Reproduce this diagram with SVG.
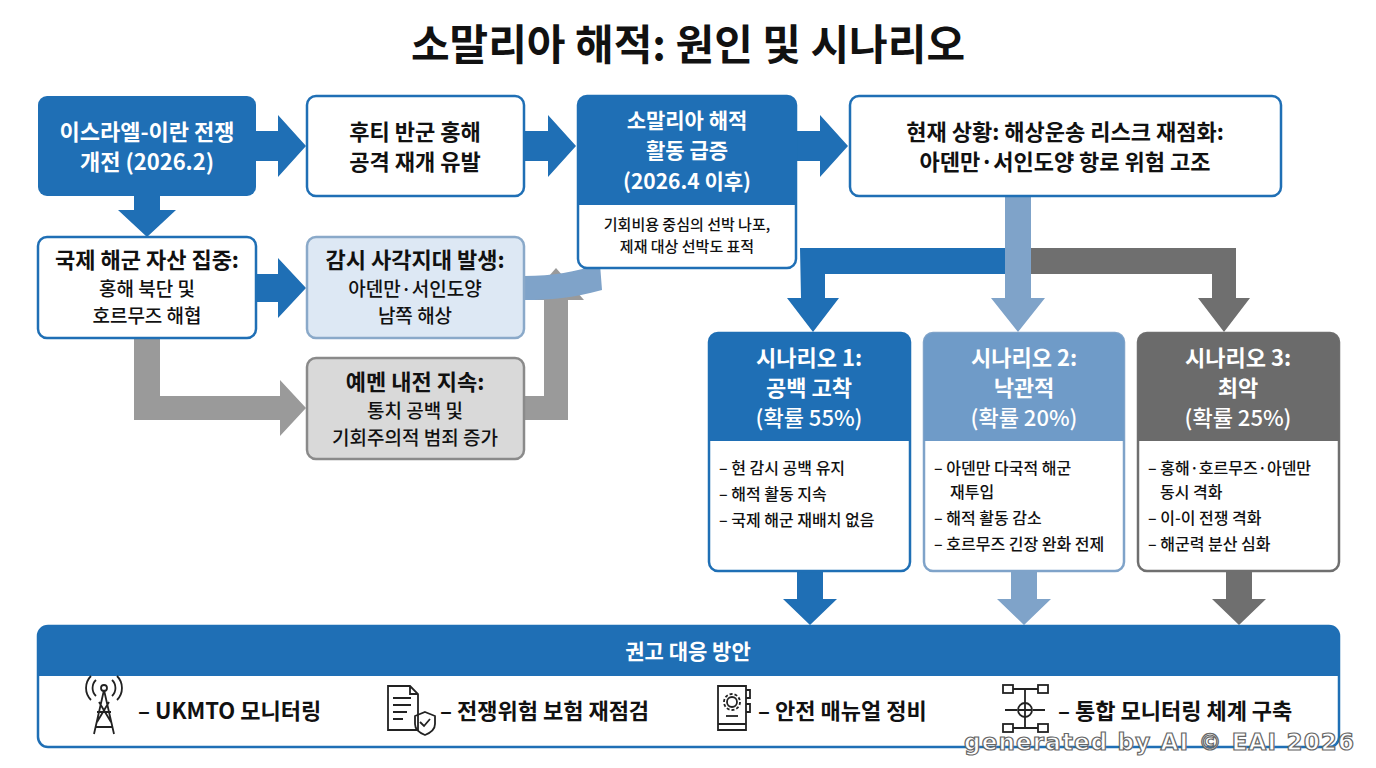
<svg xmlns="http://www.w3.org/2000/svg" width="1376" height="768" viewBox="0 0 1376 768">
<style>
text{font-family:"Noto Sans CJK KR","Noto Sans",sans-serif;text-anchor:middle}
.t{font-size:22px;font-weight:bold;fill:#111}
.w{font-size:22px;font-weight:bold;fill:#fff}
.s{font-size:15px;font-weight:500;fill:#111}
.l{font-size:16px;font-weight:500;fill:#111;text-anchor:start}
.b{font-size:22px;font-weight:bold;fill:#111;text-anchor:start}
.bl{fill:#1f6fb5}
.bo{fill:#fff;stroke:#1f6fb5;stroke-width:2.5}
.ic{fill:none;stroke:#222;stroke-width:1.8}
</style>
<rect width="1376" height="768" fill="#fff"/>
<text x="688" y="60" style="font-size:42px;font-weight:bold;fill:#111">소말리아 해적: 원인 및 시나리오</text>
<g id="connectors">
<path d="M256 131h22v-16l28 31-28 31v-16h-22z" class="bl"/>
<path d="M524 131h24v-16l28 31-28 31v-16h-24z" class="bl"/>
<path d="M796 131h24v-16l28 31-28 31v-16h-24z" class="bl"/>
<path d="M134 196h26v14h16l-29 27-29-27h16z" class="bl"/>
<path d="M256 274h22v-16l28 30-28 30v-16h-22z" class="bl"/>
<path d="M134 338h26v58h120v-16l26 28-26 28v-16h-146z" fill="#9a9a9a"/>
<path d="M524 396h20v-96h-16l28-32 28 32h-16v120h-44z" fill="#9a9a9a"/>
<path d="M524 276c30 0 50-4 76-12l2 26c-30 8-50 10-78 10z" fill="#7fa3c9"/>
<path d="M1005 196h26v52h-26z" fill="#7fa3c9"/>
<path d="M800 248h205v26h-180v24h14l-26 34-26-34h14z" class="bl"/>
<path d="M1005 248h26v50h14l-27 34-27-34h14z" fill="#7fa3c9"/>
<path d="M1031 248h205v50h14l-26 34-26-34h14v-24h-181z" fill="#6f6f6f"/>
<path d="M797 571h26v28h14l-27 26-27-26h14z" class="bl"/>
<path d="M1011 571h26v28h14l-27 26-27-26h14z" fill="#7fa3c9"/>
<path d="M1226 571h26v28h14l-27 26-27-26h14z" fill="#6f6f6f"/>
</g>
<g id="n1"><rect x="38" y="96" width="218" height="100" rx="9" class="bl"/>
<text x="147" y="140" class="w">이스라엘-이란 전쟁</text><text x="147" y="170" class="w">개전 (2026.2)</text></g>
<g id="n2"><rect x="307" y="96" width="217" height="100" rx="9" class="bo"/>
<text x="415" y="140" class="t">후티 반군 홍해</text><text x="415" y="170" class="t">공격 재개 유발</text></g>
<g id="n3"><rect x="578" y="96" width="218" height="172" rx="9" class="bo"/>
<path d="M587 96h200a9 9 0 0 1 9 9v100h-218v-100a9 9 0 0 1 9-9z" class="bl"/>
<text x="687" y="128" class="w" style="font-size:21px">소말리아 해적</text><text x="687" y="158" class="w" style="font-size:21px">활동 급증</text><text x="687" y="189" class="w" style="font-size:21px">(2026.4 이후)</text>
<text x="687" y="230" class="s">기회비용 중심의 선박 나포,</text><text x="687" y="252" class="s">제재 대상 선박도 표적</text></g>
<g id="n4"><rect x="850" y="96" width="431" height="100" rx="9" class="bo"/>
<text x="1065" y="140" class="t">현재 상황: 해상운송 리스크 재점화:</text><text x="1065" y="170" class="t">아덴만·서인도양 항로 위험 고조</text></g>
<g id="n5"><rect x="38" y="237" width="218" height="101" rx="9" class="bo"/>
<text x="147" y="268" class="t">국제 해군 자산 집중:</text><text x="147" y="296" class="s" style="font-size:19px">홍해 북단 및</text><text x="147" y="323" class="s" style="font-size:19px">호르무즈 해협</text></g>
<g id="n6"><rect x="307" y="237" width="217" height="101" rx="9" fill="#dde8f4" stroke="#8aa9c9" stroke-width="2.5"/>
<text x="415" y="268" class="t">감시 사각지대 발생:</text><text x="415" y="296" class="s" style="font-size:19px">아덴만·서인도양</text><text x="415" y="323" class="s" style="font-size:19px">남쪽 해상</text></g>
<g id="n7"><rect x="307" y="358" width="217" height="101" rx="9" fill="#d9d9d9" stroke="#8a8a8a" stroke-width="2.5"/>
<text x="415" y="390" class="t">예멘 내전 지속:</text><text x="415" y="418" class="s" style="font-size:19px">통치 공백 및</text><text x="415" y="445" class="s" style="font-size:19px">기회주의적 범죄 증가</text></g>
<g id="s1"><rect x="709" y="333" width="201" height="238" rx="9" class="bo"/>
<path d="M718 333h183a9 9 0 0 1 9 9v99h-201v-99a9 9 0 0 1 9-9z" class="bl"/>
<text x="809" y="366" class="w">시나리오 1:</text><text x="809" y="396" class="w">공백 고착</text><text x="809" y="426" class="w" style="font-weight:500">(확률 55%)</text>
<text x="719" y="474" class="l">– 현 감시 공백 유지</text><text x="719" y="500" class="l">– 해적 활동 지속</text><text x="719" y="526" class="l">– 국제 해군 재배치 없음</text></g>
<g id="s2"><rect x="924" y="333" width="200" height="238" rx="9" fill="#fff" stroke="#7fa3c9" stroke-width="2.5"/>
<path d="M933 333h182a9 9 0 0 1 9 9v99h-200v-99a9 9 0 0 1 9-9z" fill="#6f9bc8"/>
<text x="1024" y="366" class="w">시나리오 2:</text><text x="1024" y="396" class="w">낙관적</text><text x="1024" y="426" class="w" style="font-weight:500">(확률 20%)</text>
<text x="934" y="474" class="l">– 아덴만 다국적 해군</text><text x="950" y="498" class="l">재투입</text><text x="934" y="524" class="l">– 해적 활동 감소</text><text x="934" y="550" class="l">– 호르무즈 긴장 완화 전제</text></g>
<g id="s3"><rect x="1138" y="333" width="201" height="238" rx="9" fill="#fff" stroke="#6f6f6f" stroke-width="2.5"/>
<path d="M1147 333h183a9 9 0 0 1 9 9v99h-201v-99a9 9 0 0 1 9-9z" fill="#6b6b6b"/>
<text x="1238" y="366" class="w">시나리오 3:</text><text x="1238" y="396" class="w">최악</text><text x="1238" y="426" class="w" style="font-weight:500">(확률 25%)</text>
<text x="1148" y="474" class="l">– 홍해·호르무즈·아덴만</text><text x="1160" y="498" class="l">동시 격화</text><text x="1148" y="524" class="l">– 이-이 전쟁 격화</text><text x="1148" y="550" class="l">– 해군력 분산 심화</text></g>
<g id="rec"><rect x="38" y="626" width="1301" height="121" rx="10" class="bo"/>
<path d="M48 626h1281a10 10 0 0 1 10 10v40h-1301v-40a10 10 0 0 1 10-10z" class="bl"/>
<text x="688" y="659" class="w" style="font-size:21px">권고 대응 방안</text>
<g class="ic"><path d="M104 690l-10 44M104 690l10 44M97 712h14M99 702l12 20M109 702l-12 20M95 727h18"/><circle cx="104" cy="688" r="3"/><path d="M96 680a11 11 0 0 0 0 16M112 680a11 11 0 0 1 0 16M91 676a17 17 0 0 0 0 24M117 676a17 17 0 0 1 0 24"/></g>
<text x="138" y="719" class="b">– UKMTO 모니터링</text>
<g class="ic"><path d="M388 686h22l8 8v36h-30z M410 686v8h8 M393 698h18M393 705h18M393 712h14M393 719h10"/><path d="M425 712l10 4v8c0 6-5 9-10 11-5-2-10-5-10-11v-8z"/><path d="M420 722l4 4 6-7"/></g>
<text x="440" y="719" class="b">– 전쟁위험 보험 재점검</text>
<g class="ic"><path d="M718 686h28v44h-28z M718 724h28 M746 690h4v8h-4M746 704h4v8h-4"/><circle cx="732" cy="702" r="5"/><circle cx="732" cy="702" r="8" stroke-dasharray="3 2"/><path d="M726 716h12"/></g>
<text x="758" y="719" class="b">– 안전 매뉴얼 정비</text>
<g class="ic"><rect x="1003" y="685" width="10" height="8"/><rect x="1038" y="685" width="10" height="8"/><rect x="1003" y="724" width="10" height="8"/><rect x="1038" y="724" width="10" height="8"/><path d="M1013 689h25M1025 689v14M1013 728h25M1025 717v11M1005 710h12M1033 710h12"/><circle cx="1025" cy="710" r="7"/><path d="M1018 710h14M1025 703v14"/></g>
<text x="1058" y="719" class="b">– 통합 모니터링 체계 구축</text></g>
<text x="964" y="750" style="font-family:'DejaVu Sans',sans-serif;font-size:23px;font-weight:bold;fill:#fff;stroke:#666;stroke-width:1.2;text-anchor:start" textLength="390">generated by AI © EAI 2026</text>
</svg>
